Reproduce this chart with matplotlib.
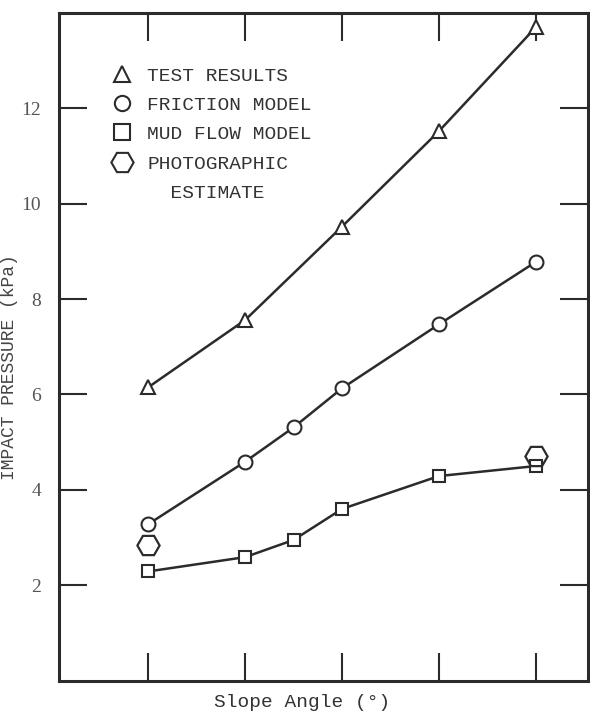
'''
    Impact pressure against slope angle: test results vs. models.
'''

import matplotlib.pyplot as plt
from matplotlib.lines import Line2D

# ============ #
# === Data === #
# ============ #

# slope angles (no tick labels in the original, spacing only)
angles_test = [20, 25, 30, 35, 40]
angles_model = [20, 25, 27.5, 30, 35, 40]
angles_photo = [20, 40]

test_results = [6.15, 7.56, 9.52, 11.52, 13.70]
friction_model = [3.28, 4.59, 5.31, 6.13, 7.47, 8.78]
mud_flow_model = [2.29, 2.59, 2.95, 3.60, 4.29, 4.50]
photo_estimate = [2.84, 4.72]

y_ticks = [2, 4, 6, 8, 10, 12]

# ================ #
# === Plotting === #
# ================ #

INK = '#2b2b2b'
MONO = 'Liberation Mono'

fig = plt.figure(figsize=(5.9, 7.15), dpi=100)
ax = fig.add_axes([0.100, 0.048, 0.897, 0.934])

line_kw = dict(color=INK, lw=1.8, markeredgecolor=INK, markeredgewidth=1.5,
               markerfacecolor='white')
ax.plot(angles_test, test_results, marker='^', ms=10, **line_kw)
ax.plot(angles_model, friction_model, marker='o', ms=10, **line_kw)
ax.plot(angles_model, mud_flow_model, marker='s', ms=8.5, **line_kw)
ax.plot(angles_photo, photo_estimate, ls='none', marker='H', ms=16,
        markeredgecolor=INK, markeredgewidth=1.6, markerfacecolor='none')

ax.set_xlim(15.4, 42.7)
ax.set_ylim(0, 14)
ax.set_xticks(angles_test)
ax.set_xticklabels([])
ax.set_yticks(y_ticks)
ax.set_yticklabels([str(v) for v in y_ticks], family='Liberation Serif',
                   fontsize=14, color='#555555')

ax.tick_params(direction='in', length=20, width=1.5, color=INK,
               top=True, right=True, pad=13)
for spine in ax.spines.values():
    spine.set_linewidth(2.2)
    spine.set_color(INK)

ax.set_ylabel('IMPACT PRESSURE (kPa)', family=MONO, fontsize=13, color='#444444')
ax.yaxis.set_label_coords(-0.078, 0.47)
ax.set_xlabel('Slope Angle (°)', family=MONO, fontsize=14, color='#333333')
ax.xaxis.set_label_coords(0.46, -0.02)

# --- legend ---
marker_kw = dict(ls='none', color=INK, markeredgecolor=INK,
                 markeredgewidth=1.5, markerfacecolor='none')
handles = [
    Line2D([], [], marker='^', ms=12, **marker_kw),
    Line2D([], [], marker='o', ms=11, **marker_kw),
    Line2D([], [], marker='s', ms=11, **marker_kw),
    Line2D([], [], marker='H', ms=16, **marker_kw),
    Line2D([], [], ls='none'),
]
labels = ['TEST RESULTS', 'FRICTION MODEL', 'MUD FLOW MODEL',
          'PHOTOGRAPHIC', '  ESTIMATE']
leg = ax.legend(handles, labels, loc='upper left', bbox_to_anchor=(0.064, 0.945),
                frameon=False, handlelength=1.2, handletextpad=0.69,
                labelspacing=0.6, prop={'family': MONO, 'size': 14})
for txt in leg.get_texts():
    txt.set_color('#333333')

fig.savefig('out.png', dpi=100)
